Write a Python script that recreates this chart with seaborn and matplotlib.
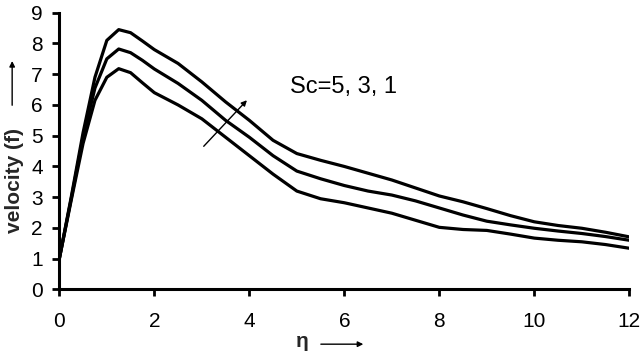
import numpy as np
import pandas as pd
import matplotlib
matplotlib.use("Agg")
import matplotlib.pyplot as plt
import seaborn as sns

# values
eta = [0, 0.25, 0.5, 0.75, 1.0, 1.25, 1.5, 1.75, 2, 2.5, 3, 3.5, 4, 4.5, 5, 5.5, 6,
       6.5, 7, 7.5, 8, 8.5, 9, 9.5, 10, 10.5, 11, 11.5, 12]
f_sc1 = [1.0, 3.0, 5.1, 6.9, 8.1, 8.45, 8.35, 8.08, 7.8, 7.35, 6.75, 6.1, 5.5, 4.85, 4.42, 4.2, 4.0,
         3.78, 3.56, 3.3, 3.04, 2.85, 2.63, 2.4, 2.2, 2.08, 1.99, 1.86, 1.71]
f_sc3 = [1.0, 2.95, 4.95, 6.55, 7.5, 7.82, 7.7, 7.45, 7.17, 6.7, 6.15, 5.5, 4.95, 4.35, 3.85, 3.6, 3.38,
         3.2, 3.07, 2.88, 2.65, 2.42, 2.22, 2.1, 1.99, 1.9, 1.82, 1.72, 1.6]
f_sc5 = [1.0, 2.9, 4.75, 6.15, 6.9, 7.18, 7.05, 6.72, 6.4, 6.0, 5.55, 4.95, 4.35, 3.75, 3.2, 2.95, 2.82,
         2.65, 2.48, 2.25, 2.02, 1.95, 1.92, 1.8, 1.67, 1.6, 1.55, 1.46, 1.34]
sc_labels = ["Sc=1", "Sc=3", "Sc=5"]
x_ticks = [0, 2, 4, 6, 8, 10, 12]
y_ticks = list(range(0, 10))

df = pd.DataFrame({
    "eta": eta * 3,
    "f": f_sc1 + f_sc3 + f_sc5,
    "Sc": [s for s in sc_labels for _ in eta],
})

sns.set_theme(style="ticks")
plt.rcParams["font.family"] = ["Liberation Sans", "DejaVu Sans"]

fig = plt.figure(figsize=(6.4, 3.53), dpi=100)
ax = fig.add_axes([0.0927, 0.180, 0.8906, 0.784])

sns.lineplot(data=df, x="eta", y="f", hue="Sc", palette=["black"] * 3,
             linewidth=2.3, legend=False, ax=ax, sort=False)
for line in ax.lines:
    line.set_solid_joinstyle("round")

ax.set_xlim(0, 12)
ax.set_ylim(0, 9)
ax.set_xticks(x_ticks)
ax.set_yticks(y_ticks)
ax.tick_params(axis="x", direction="out", length=5, width=2, pad=11, labelsize=15, colors="black")
ax.tick_params(axis="y", direction="out", length=5, width=2, pad=7, labelsize=15, colors="black")
sns.despine(ax=ax)
for side in ["left", "bottom"]:
    ax.spines[side].set_linewidth(2.2)
    ax.spines[side].set_color("black")
ax.set_xlabel("")
ax.set_ylabel("")

# annotation with arrow across the curves
ax.text(4.86, 6.58, "Sc=5, 3, 1", fontsize=17, color="black", va="center", ha="left")
ax.annotate("", xy=(3.99, 6.22), xytext=(3.0, 4.59),
            arrowprops=dict(arrowstyle="-|>", lw=1, color="black", mutation_scale=8))

# axis titles with arrows
fig.text(0.023, 0.49, "velocity (f)", rotation=90, fontsize=15, fontweight="bold",
         ha="center", va="center")
fig.add_artist(matplotlib.patches.FancyArrowPatch(
    (0.019, 0.694), (0.019, 0.835), transform=fig.transFigure,
    arrowstyle="-|>", lw=1, color="black", mutation_scale=8))
fig.text(0.473, 0.032, "η", fontsize=15, fontweight="bold", ha="center", va="center")
fig.add_artist(matplotlib.patches.FancyArrowPatch(
    (0.497, 0.025), (0.572, 0.025), transform=fig.transFigure,
    arrowstyle="-|>", lw=1, color="black", mutation_scale=8))

fig.savefig("out.png", dpi=100)
